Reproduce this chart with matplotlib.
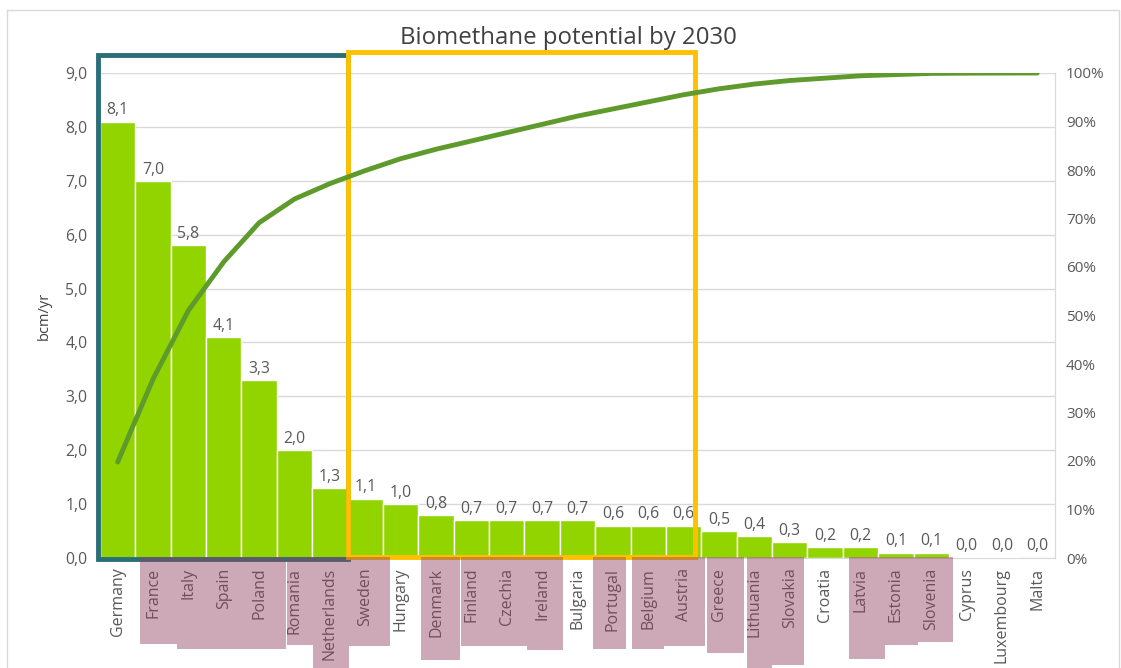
import matplotlib.pyplot as plt
import matplotlib.patches as mpatches
import numpy as np

# ================================
# DATA
# ================================
countries = ["Germany", "France", "Italy", "Spain", "Poland", "Romania", "Netherlands",
             "Sweden", "Hungary", "Denmark", "Finland", "Czechia", "Ireland", "Bulgaria",
             "Portugal", "Belgium", "Austria", "Greece", "Lithuania", "Slovakia", "Croatia",
             "Latvia", "Estonia", "Slovenia", "Cyprus", "Luxembourg", "Malta"]
potential = [8.1, 7.0, 5.8, 4.1, 3.3, 2.0, 1.3, 1.1, 1.0, 0.8, 0.7, 0.7, 0.7, 0.7,
             0.6, 0.6, 0.6, 0.5, 0.4, 0.3, 0.2, 0.2, 0.1, 0.1, 0.02, 0.01, 0.005]
labels_txt = ["8,1", "7,0", "5,8", "4,1", "3,3", "2,0", "1,3", "1,1", "1,0", "0,8", "0,7",
              "0,7", "0,7", "0,7", "0,6", "0,6", "0,6", "0,5", "0,4", "0,3", "0,2", "0,2",
              "0,1", "0,1", "0,0", "0,0", "0,0"]

cum_share = np.cumsum(potential) / np.sum(potential)

# highlight boxes (first, last country index)
box_top = (0, 6)
box_mid = (7, 16)

# pink overlays on the labels, pixel columns and bottom edge
pink = [(140, 177, 644), (177, 247, 649), (247, 286, 649), (287, 313, 645),
        (313, 349, 670), (349, 390, 646), (421, 460, 660), (461, 527, 646),
        (527, 563, 650), (593, 626, 649), (632, 664, 649), (664, 705, 646),
        (707, 744, 653), (747, 772, 670), (772, 804, 665), (849, 885, 659),
        (885, 918, 645), (918, 953, 642)]

W, H = 1121, 668
grey = "#595959"
plt.rcParams["font.family"] = ["Open Sans", "DejaVu Sans"]

fig = plt.figure(figsize=(W / 100, H / 100), dpi=100)
ax = fig.add_axes([100 / W, 1 - 558 / H, 955 / W, 485 / H])

x = np.arange(len(countries))
ax.bar(x, potential, width=1.0, color="#92d400", edgecolor="white", linewidth=1, zorder=2)

for xi, v, t in zip(x, potential, labels_txt):
    ax.text(xi, v + 0.06, t, ha="center", va="bottom", fontsize=11.3, color=grey, zorder=5)

ax.set_xlim(-0.5, len(countries) - 0.5)
ax.set_ylim(0, 9)
ax.set_yticks(np.arange(0, 10, 1))
ax.set_yticklabels([f"{v:.1f}".replace(".", ",") for v in np.arange(0, 10, 1)])
ax.set_xticks(x)
ax.set_xticklabels(countries, rotation=90, fontsize=11.5, color=grey)
ax.tick_params(axis="y", length=0, colors=grey, labelsize=11.3, pad=9)
ax.tick_params(axis="x", length=0, colors=grey, pad=7)
ax.grid(axis="y", color="#d9d9d9", linewidth=1, zorder=0)
ax.set_axisbelow(True)
for s in ["top", "left"]:
    ax.spines[s].set_visible(False)
ax.spines["right"].set_color("#d9d9d9")
ax.spines["bottom"].set_color("#d9d9d9")
ax.set_ylabel("bcm/yr", fontsize=10.5, color="#404040", labelpad=10)

ax2 = ax.twinx()
ax2.plot(x, cum_share, color="#5e9a2c", linewidth=3.5, solid_capstyle="round", zorder=4)
ax2.set_ylim(0, 1)
ax2.set_yticks(np.arange(0, 1.01, 0.1))
ax2.set_yticklabels([f"{int(round(p * 100))}%" for p in np.arange(0, 1.01, 0.1)])
ax2.tick_params(axis="y", length=0, colors=grey, labelsize=11, pad=8)
for s in ["top", "left", "bottom"]:
    ax2.spines[s].set_visible(False)
ax2.spines["right"].set_color("#d9d9d9")

# highlight boxes
ax.add_patch(mpatches.Rectangle((box_top[0] - 0.55, -0.02), box_top[1] - box_top[0] + 1.05, 9.35,
                                fill=False, edgecolor="#2a6f78", linewidth=3.5,
                                clip_on=False, zorder=6))
ax.add_patch(mpatches.Rectangle((box_mid[0] - 0.5, 0.02), box_mid[1] - box_mid[0] + 0.83, 9.37,
                                fill=False, edgecolor="#ffc000", linewidth=3.5,
                                clip_on=False, zorder=6))

fig.suptitle("Biomethane potential by 2030", x=568 / W, y=1 - 26 / H, va="top",
             fontsize=17.3, color="#404040")

# pink overlays
for x0, x1, yb in pink:
    fig.patches.append(mpatches.Rectangle((x0 / W, 1 - yb / H), (x1 - x0) / W, (yb - 557) / H,
                                          transform=fig.transFigure, facecolor="#914161",
                                          alpha=0.45, edgecolor="none", zorder=10))

# outer border
fig.patches.append(mpatches.Rectangle((7 / W, -0.01), (W - 9) / W, 1 - 10 / H + 0.01,
                                      transform=fig.transFigure, fill=False,
                                      edgecolor="#d9d9d9", linewidth=1))

fig.savefig("out.png", dpi=100)
